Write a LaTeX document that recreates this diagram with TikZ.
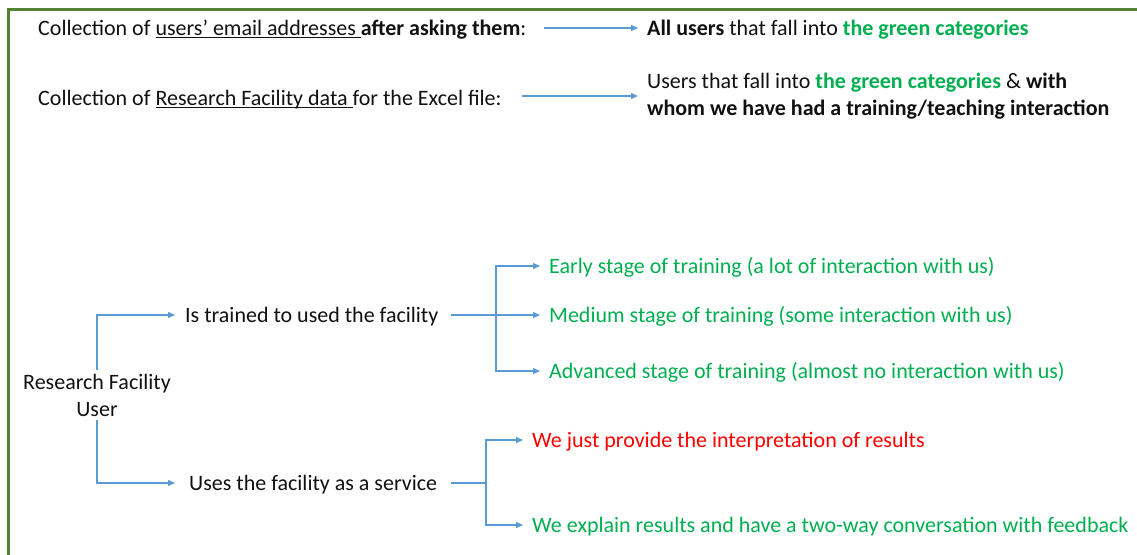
\documentclass[tikz,border=0pt]{standalone}
\usepackage{fontspec}
\setmainfont{Carlito}
\usetikzlibrary{arrows.meta}
\definecolor{framegreen}{HTML}{548235}
\definecolor{txtgreen}{HTML}{00B050}
\definecolor{txtred}{HTML}{FF0000}
\definecolor{arrblue}{HTML}{5B9BD5}
\definecolor{txtdark}{HTML}{111111}
\newcommand{\gb}[1]{\textcolor{txtgreen}{\textbf{#1}}}
\newcommand{\myul}[1]{\setbox0\hbox{#1}\rlap{\rule[-2.6pt]{\wd0}{1pt}}\box0}
\tikzset{
  lbl/.style={inner sep=0pt, anchor=west, text=txtdark, text height=14.5pt, text depth=0pt,
    font=\fontsize{22}{27}\selectfont},
  multi/.style={inner sep=0pt, text=txtdark, font=\fontsize{22}{27}\selectfont},
  arr/.style={draw=arrblue, line width=1.3pt, -{Triangle[length=7pt,width=6pt]}},
  ln/.style={draw=arrblue, line width=1.3pt},
  frame/.style={draw=framegreen, line width=3pt}
}
\begin{document}
\begin{tikzpicture}[x=1pt,y=-1pt]
\useasboundingbox (0,0) rectangle (1137,554);
\fill[white] (0,0) rectangle (1137,554);
\draw[frame] (1140,9) -- (8,9) -- (8,560);
% top rows
\node[lbl] (q1) at (38,28) {Collection of \myul{users’ email addresses }\textbf{after asking them}:};
\node[lbl] (a1) at (647,28) {\textbf{All users} that fall into \gb{the green categories}};
\node[lbl] (q2) at (38,98) {Collection of \myul{Research Facility data }for the Excel file:};
\node[multi, anchor=west, align=left] (a2) at (647,96) {Users that fall into \gb{the green categories} \& \textbf{with}\\\textbf{whom we have had a training/teaching interaction}};
\draw[arr, shorten <=17pt, shorten >=9pt] (q1.east) -- (a1.west);
\draw[arr, shorten <=20pt, shorten >=9pt] (q2.east |- a2.west) -- (a2.west);
% tree
\node[multi, align=center] (rfu) at (97,395) {Research Facility\\User};
\node[lbl] (tr) at (185,315) {Is trained to used the facility};
\node[lbl] (sv) at (189,483) {Uses the facility as a service};
\node[lbl, text=txtgreen] (e1) at (549,266) {Early stage of training (a lot of interaction with us)};
\node[lbl, text=txtgreen] (e2) at (549,315) {Medium stage of training (some interaction with us)};
\node[lbl, text=txtgreen] (e3) at (549,371) {Advanced stage of training (almost no interaction with us)};
\node[lbl, text=txtred] (s1) at (532,440) {We just provide the interpretation of results};
\node[lbl, text=txtgreen] (s2) at (532,525) {We explain results and have a two-way conversation with feedback};
\coordinate (b1) at (496,315);
\coordinate (b2) at (486,483);
\draw[arr, shorten <=4pt, shorten >=10pt] (rfu.north) |- (tr.west);
\draw[arr, shorten <=4pt, shorten >=14pt] (rfu.south) |- (sv.west);
\draw[arr, shorten <=12pt, shorten >=9pt] (tr.east) -- (e2.west);
\draw[arr, shorten >=9pt] (b1) |- (e1.west);
\draw[arr, shorten >=9pt] (b1) |- (e3.west);
\draw[ln, shorten <=14pt] (sv.east) -- (b2);
\draw[arr, shorten >=9pt] (b2) |- (s1.west);
\draw[arr, shorten >=9pt] (b2) |- (s2.west);
\end{tikzpicture}
\end{document}
